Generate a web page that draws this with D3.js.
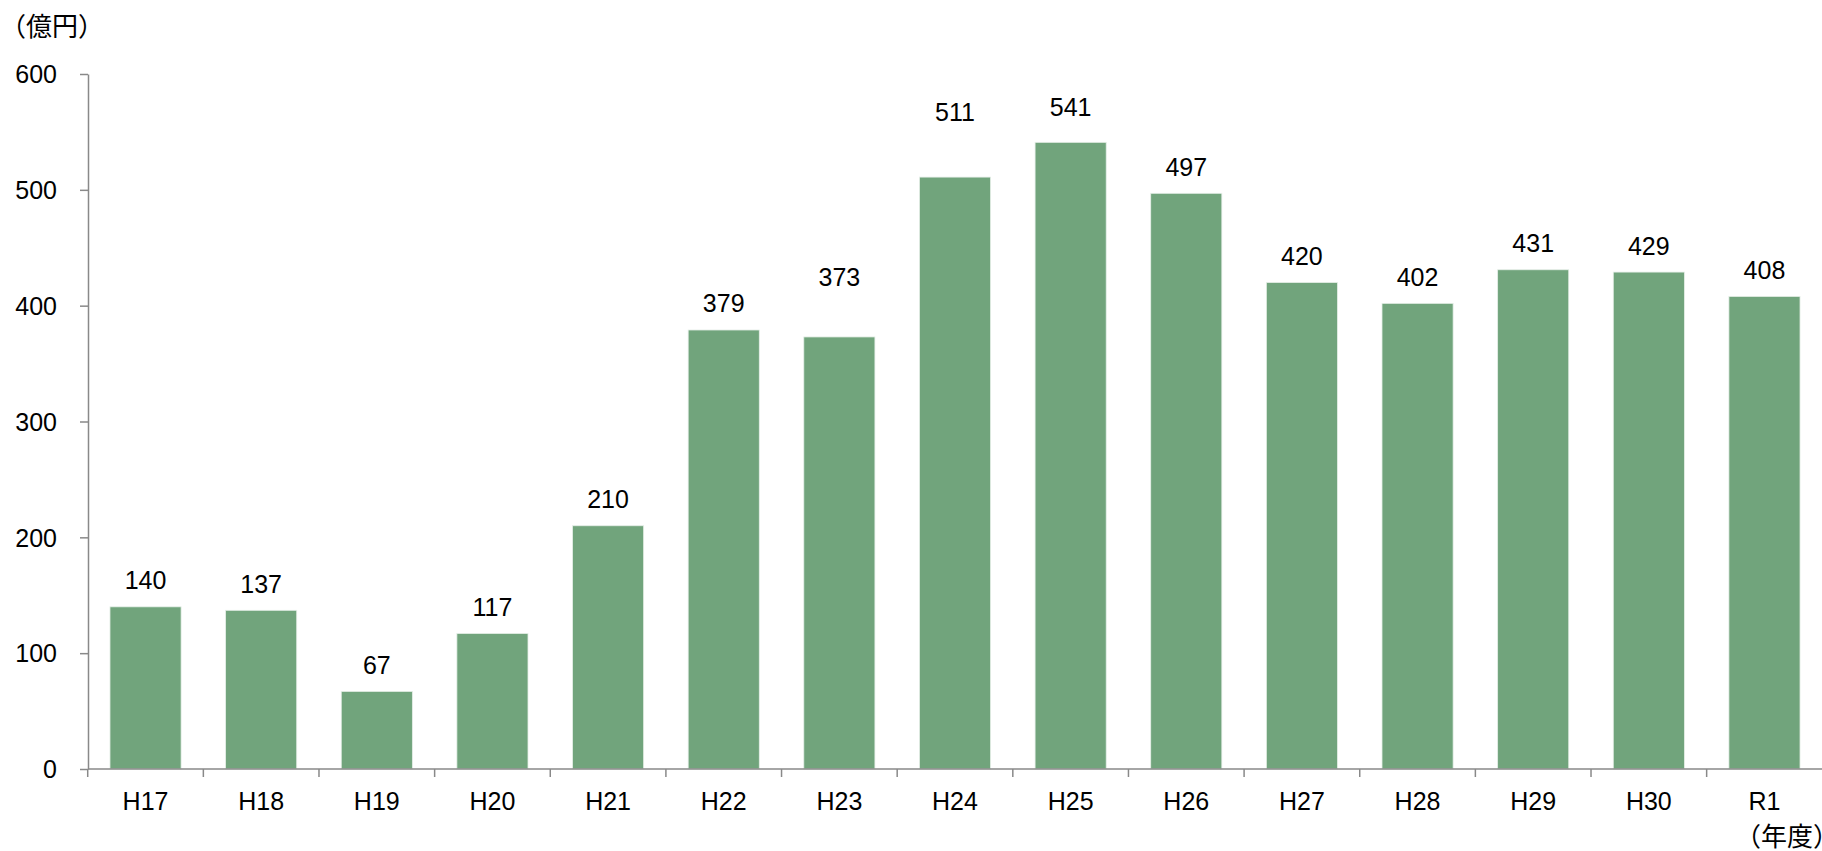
<!DOCTYPE html>
<html>
<head>
<meta charset="utf-8">
<script src="https://cdn.jsdelivr.net/npm/d3@7"></script>
<style>
  body { margin: 0; background: #fff; }
  svg { display: block; font-family: "Liberation Sans", Arial, sans-serif; }
</style>
</head>
<body>
<div id="chart"></div>
<script>
// data
const years = ["H17", "H18", "H19", "H20", "H21", "H22", "H23", "H24", "H25", "H26", "H27", "H28", "H29", "H30", "R1"];
const amounts = [140, 137, 67, 117, 210, 379, 373, 511, 541, 497, 420, 402, 431, 429, 408];
const yTicks = [0, 100, 200, 300, 400, 500, 600];

const width = 1822;
const height = 851;
const margin = {top: 74, right: 0, bottom: 82, left: 88};

const svg = d3.select("#chart")
  .append("svg")
  .attr("width", width)
  .attr("height", height);

// scales
const x = d3.scaleBand()
  .domain(years)
  .range([margin.left, width - margin.right])
  .paddingInner(0.385)
  .paddingOuter(0.19);
const y = d3.scaleLinear()
  .domain([0, 600])
  .range([height - margin.bottom, margin.top]);

// bars
svg.append("g")
  .selectAll("rect")
  .data(amounts)
  .enter().append("rect")
  .attr("x", (d, i) => x(years[i]))
  .attr("y", d => y(d))
  .attr("width", x.bandwidth())
  .attr("height", d => y(0) - y(d))
  .attr("fill", "#71a47c")
  .attr("stroke", "#e6efe8")
  .attr("stroke-width", 0.8);

// value labels (a few sit higher in the original)
const labelLift = {H23: 33, H24: 39, H25: 9};
svg.append("g")
  .selectAll("text")
  .data(amounts)
  .enter().append("text")
  .attr("x", (d, i) => x(years[i]) + x.bandwidth() / 2)
  .attr("y", (d, i) => y(d) - 17.5 - (labelLift[years[i]] || 0))
  .attr("text-anchor", "middle")
  .style("font-size", "25px")
  .attr("fill", "#000")
  .text(d => d);

// y axis
const yAxis = svg.append("g")
  .attr("transform", `translate(${margin.left}, 0)`)
  .call(d3.axisLeft(y).tickValues(yTicks).tickSize(8).tickPadding(0).tickSizeOuter(0));
yAxis.select(".domain").attr("stroke", "#898989").attr("stroke-width", 1.5);
yAxis.selectAll(".tick line").attr("stroke", "#898989").attr("stroke-width", 1.5);
yAxis.selectAll(".tick text")
  .attr("x", -31)
  .attr("dy", "0.35em")
  .style("font-size", "25px")
  .attr("fill", "#000");

// x axis, ticks between categories
const xAxisY = y(0);
const xg = svg.append("g");
xg.append("line")
  .attr("x1", margin.left)
  .attr("x2", width - margin.right)
  .attr("y1", xAxisY)
  .attr("y2", xAxisY)
  .attr("stroke", "#898989")
  .attr("stroke-width", 1.5);
const step = x.step();
const bounds = years.map((d, i) => x(d) - (step - x.bandwidth()) / 2);
xg.selectAll(".sep")
  .data(bounds)
  .enter().append("line")
  .attr("class", "sep")
  .attr("x1", d => d)
  .attr("x2", d => d)
  .attr("y1", xAxisY)
  .attr("y2", xAxisY + 8)
  .attr("stroke", "#898989")
  .attr("stroke-width", 1.5);
xg.selectAll(".cat")
  .data(years)
  .enter().append("text")
  .attr("class", "cat")
  .attr("x", d => x(d) + x.bandwidth() / 2)
  .attr("y", xAxisY + 41)
  .attr("text-anchor", "middle")
  .style("font-size", "25px")
  .attr("fill", "#000")
  .text(d => d);

// unit labels
svg.append("text")
  .attr("x", 0)
  .attr("y", 36)
  .style("font-family", "'Noto Sans CJK JP', sans-serif")
  .style("font-size", "26px")
  .text("（億円）");
svg.append("text")
  .attr("x", 1735)
  .attr("y", 846)
  .style("font-family", "'Noto Sans CJK JP', sans-serif")
  .style("font-size", "26px")
  .text("（年度）");
</script>
</body>
</html>
